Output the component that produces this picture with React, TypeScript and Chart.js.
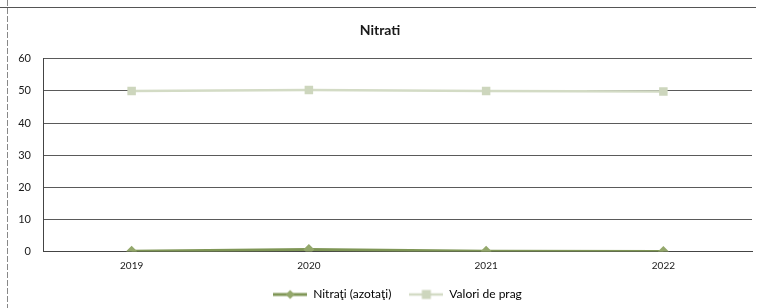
import React, { useEffect, useRef } from "react";
import { Chart, registerables } from "chart.js";

Chart.register(...registerables);

const categories = ["2019", "2020", "2021", "2022"];
const nitratiValues = [0.1, 0.6, 0.1, 0.0];
const pragValues = [50, 50.3, 50, 49.8];
const yTicks = [0, 10, 20, 30, 40, 50, 60];

const NITRATI_COLOR = "#7f9656";
const NITRATI_MARKER = "#94a86c";
const PRAG_COLOR = "#d3dbc5";
const PRAG_MARKER = "#cdd6bd";
const FONT = "Lato, 'Open Sans', sans-serif";

function legendImage(lineColor: string, markerColor: string, shape: "diamond" | "square", lw: number) {
  const c = document.createElement("canvas");
  c.width = 34;
  c.height = 12;
  const ctx = c.getContext("2d")!;
  ctx.strokeStyle = lineColor;
  ctx.lineWidth = lw;
  ctx.beginPath();
  ctx.moveTo(0, 6);
  ctx.lineTo(34, 6);
  ctx.stroke();
  ctx.fillStyle = markerColor;
  if (shape === "diamond") {
    ctx.beginPath();
    ctx.moveTo(17, 1.5);
    ctx.lineTo(21.5, 6);
    ctx.lineTo(17, 10.5);
    ctx.lineTo(12.5, 6);
    ctx.closePath();
    ctx.fill();
  } else {
    ctx.fillRect(12.5, 1.5, 9, 9);
  }
  return c;
}

const framePlugin = {
  id: "frame",
  beforeDraw(chart: any) {
    const ctx = chart.ctx;
    ctx.save();
    ctx.fillStyle = "#ffffff";
    ctx.fillRect(0, 0, chart.width, chart.height);
    ctx.strokeStyle = "#555555";
    ctx.lineWidth = 1.2;
    ctx.beginPath();
    ctx.moveTo(0, 7.5);
    ctx.lineTo(756, 7.5);
    ctx.stroke();
    ctx.strokeStyle = "#888888";
    ctx.lineWidth = 1;
    ctx.setLineDash([6, 2]);
    ctx.beginPath();
    ctx.moveTo(7.5, 0);
    ctx.lineTo(7.5, 308);
    ctx.stroke();
    ctx.restore();
  },
};

export default function App() {
  const ref = useRef<HTMLCanvasElement>(null);
  useEffect(() => {
    const nitratiImg = legendImage(NITRATI_COLOR, NITRATI_MARKER, "diamond", 3);
    const pragImg = legendImage(PRAG_COLOR, PRAG_MARKER, "square", 2.5);
    const chart = new Chart(ref.current!, {
      type: "line",
      data: {
        labels: categories,
        datasets: [
          {
            label: "Nitraţi (azotaţi)",
            data: nitratiValues,
            borderColor: NITRATI_COLOR,
            backgroundColor: NITRATI_MARKER,
            borderWidth: 3,
            pointStyle: "rectRot",
            pointRadius: 5.5,
            pointBorderWidth: 0,
            pointBackgroundColor: NITRATI_MARKER,
          },
          {
            label: "Valori de prag",
            data: pragValues,
            borderColor: PRAG_COLOR,
            backgroundColor: PRAG_MARKER,
            borderWidth: 2.5,
            pointStyle: "rect",
            pointRadius: 6,
            pointBorderWidth: 0,
            pointBackgroundColor: PRAG_MARKER,
          },
        ],
      },
      options: {
        animation: false,
        responsive: false,
        devicePixelRatio: 1,
        layout: { padding: { left: 8, right: 8, top: 20, bottom: -2.5 } },
        plugins: {
          title: {
            display: true,
            text: "Nitrati",
            color: "#1a1a1a",
            font: { family: FONT, size: 14, weight: "bold" },
            padding: { top: 2, bottom: 20 },
          },
          legend: {
            position: "bottom",
            fullSize: false,
            labels: {
              usePointStyle: true,
              pointStyleWidth: 34,
              color: "#1a1a1a",
              font: { family: FONT, size: 12 },
              padding: 18,
              generateLabels: () => [
                { text: "Nitraţi (azotaţi)", pointStyle: nitratiImg, fillStyle: NITRATI_COLOR, strokeStyle: NITRATI_COLOR, lineWidth: 0, datasetIndex: 0, hidden: false },
                { text: "Valori de prag", pointStyle: pragImg, fillStyle: PRAG_COLOR, strokeStyle: PRAG_COLOR, lineWidth: 0, datasetIndex: 1, hidden: false },
              ] as any,
            },
          },
          tooltip: { enabled: false },
        },
        scales: {
          x: {
            offset: true,
            grid: { display: false, drawTicks: false },
            border: { display: true, color: "#444444", width: 1 },
            ticks: { color: "#1a1a1a", font: { family: FONT, size: 10 }, padding: 8, maxRotation: 0 },
            afterFit: (s: any) => {
              s.height = s.height - 9;
            },
          },
          y: {
            min: 0,
            max: 60,
            afterBuildTicks: (s: any) => {
              s.ticks = yTicks.map((v) => ({ value: v }));
            },
            afterFit: (s: any) => {
              s.width = 35;
            },
            grid: { color: "#5a5a5a", lineWidth: 1, drawTicks: false },
            border: { display: true, color: "#444444", width: 1 },
            ticks: { color: "#1a1a1a", font: { family: FONT, size: 11 }, padding: 12 },
          },
        },
      },
      plugins: [framePlugin],
    });
    return () => chart.destroy();
  }, []);
  return (
    <div style={{ position: "fixed", left: 0, top: 0, width: 760, height: 308 }}>
      <canvas ref={ref} width={760} height={308} style={{ width: 760, height: 308 }} />
    </div>
  );
}
